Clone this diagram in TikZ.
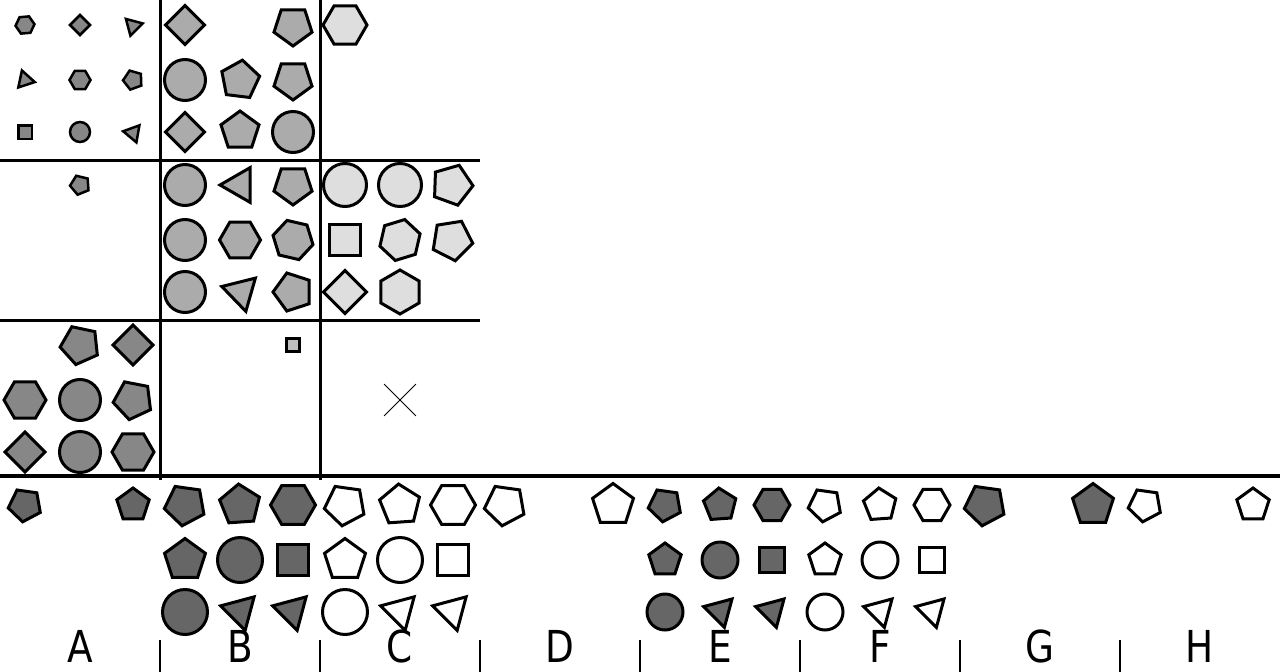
\documentclass[tikz,border=0pt]{standalone}
\usepackage{fontspec}
\newfontfamily\letrafont{DejaVu Sans}
\usetikzlibrary{shapes.geometric,shapes.misc}
\definecolor{grisA}{gray}{0.53}
\definecolor{grisB}{gray}{0.67}
\definecolor{grisC}{gray}{0.87}
\definecolor{grisD}{gray}{0.75}
\definecolor{oscuro}{gray}{0.4}
\begin{document}
\begin{tikzpicture}[x=1pt, y=-1pt,
  fig/.style={draw=black, line width=3pt, inner sep=0pt, outer sep=0pt},
  fina/.style={fig, line width=2.5pt},
  pol/.style={regular polygon, regular polygon sides=#1},
  circ/.style={circle},
  cuad/.style={rectangle},
  letra/.style={font=\letrafont\fontsize{44}{44}\selectfont, anchor=base, xscale=0.85}]
  \useasboundingbox (0,0) rectangle (1280,672);

  % Rejilla
  \draw[line width=3pt] (160,0) -- (160,480);
  \draw[line width=3pt] (320,0) -- (320,480);
  \draw[line width=3pt] (0,160) -- (480,160);
  \draw[line width=3pt] (0,320) -- (480,320);
  \draw[line width=4pt] (0,476) -- (1280,476);

  % Celda 1,1
  \node[fina, pol=6, minimum size=19, rotate=5, fill=grisA] (a11) at (25,25) {};
  \node[fina, pol=4, minimum size=20, rotate=45, fill=grisA] (a12) at (80,25) {};
  \node[fina, pol=3, minimum size=20, rotate=45, fill=grisA] (a13) at (133,26) {};
  \node[fina, pol=3, minimum size=20, rotate=18, fill=grisA] (a14) at (25,80) {};
  \node[fina, pol=6, minimum size=21, fill=grisA] (a15) at (80,80) {};
  \node[fina, pol=5, minimum size=20, rotate=20, fill=grisA] (a16) at (133,80) {};
  \node[fina, cuad, minimum size=13.5, fill=grisA] (a17) at (25,132) {};
  \node[fina, circ, minimum size=20, fill=grisA] (a18) at (80,132) {};
  \node[fina, pol=3, minimum size=20, rotate=80, fill=grisA] (a19) at (133,133) {};

  % Celda 1,2
  \node[fig, pol=4, minimum size=39, rotate=45, fill=grisB] (b11) at (185,25) {};
  \node[fig, pol=5, minimum size=40, rotate=36, fill=grisB] (b13) at (293,26) {};
  \node[fig, circ, minimum size=41, fill=grisB] (b14) at (185,80) {};
  \node[fig, pol=5, minimum size=40, rotate=-7, fill=grisB] (b15) at (240,80) {};
  \node[fig, pol=5, minimum size=40, rotate=36, fill=grisB] (b16) at (293,80) {};
  \node[fig, pol=4, minimum size=39, rotate=45, fill=grisB] (b17) at (185,132) {};
  \node[fig, pol=5, minimum size=40, fill=grisB] (b18) at (240,131) {};
  \node[fig, circ, minimum size=41, fill=grisB] (b19) at (293,132) {};

  % Celda 1,3
  \node[fig, pol=6, minimum size=44, fill=grisC] (c11) at (345,25) {};

  % Celda 2,1
  \node[fina, pol=5, minimum size=20, rotate=22, fill=grisA] (a22) at (80,185) {};

  % Celda 2,2
  \node[fig, circ, minimum size=41, fill=grisB] (b21) at (185,185) {};
  \node[fig, pol=3, minimum size=40, rotate=90, fill=grisB] (b22) at (240,185) {};
  \node[fig, pol=5, minimum size=40, rotate=36, fill=grisB] (b23) at (293,185) {};
  \node[fig, circ, minimum size=41, fill=grisB] (b24) at (185,240) {};
  \node[fig, pol=6, minimum size=41, fill=grisB] (b25) at (240,240) {};
  \node[fig, pol=6, minimum size=41, rotate=-13, fill=grisB] (b26) at (293,240) {};
  \node[fig, circ, minimum size=41, fill=grisB] (b27) at (185,292) {};
  \node[fig, pol=3, minimum size=40, rotate=74, fill=grisB] (b28) at (241,292) {};
  \node[fig, pol=5, minimum size=40, rotate=18, fill=grisB] (b29) at (293,292) {};

  % Celda 2,3
  \node[fig, circ, minimum size=43, fill=grisC] (c21) at (345,185) {};
  \node[fig, circ, minimum size=43, fill=grisC] (c22) at (400,185) {};
  \node[fig, pol=5, minimum size=42, rotate=-20, fill=grisC] (c23) at (452,185) {};
  \node[fig, cuad, minimum size=31, fill=grisC] (c24) at (345,240) {};
  \node[fig, pol=6, minimum size=42, rotate=17, fill=grisC] (c25) at (400,240) {};
  \node[fig, pol=5, minimum size=42, rotate=-27, fill=grisC] (c26) at (452,240) {};
  \node[fig, pol=4, minimum size=43, rotate=45, fill=grisC] (c27) at (345,292) {};
  \node[fig, pol=6, minimum size=44, rotate=30, fill=grisC] (c28) at (400,292) {};

  % Celda 3,1
  \node[fig, pol=5, minimum size=40, rotate=24, fill=grisA] (a32) at (80,345) {};
  \node[fig, pol=4, minimum size=40, rotate=45, fill=grisA] (a33) at (133,345) {};
  \node[fig, pol=6, minimum size=42, fill=grisA] (a34) at (25,400) {};
  \node[fig, circ, minimum size=41, fill=grisA] (a35) at (80,400) {};
  \node[fig, pol=5, minimum size=40, rotate=25, fill=grisA] (a36) at (133,400) {};
  \node[fig, pol=4, minimum size=40, rotate=45, fill=grisA] (a37) at (25,452) {};
  \node[fig, circ, minimum size=41, fill=grisA] (a38) at (80,452) {};
  \node[fig, pol=6, minimum size=42, fill=grisA] (a39) at (133,452) {};

  % Celda 3,2 y hueco
  \node[fig, cuad, minimum size=12.5, fill=grisD] (b33) at (293,345) {};
  \node[cross out, draw=black, line width=0.8pt, minimum size=31] (falta) at (400,400) {};

  % Opcion A
  \node[fig, pol=5, minimum size=34, rotate=28, fill=oscuro] (opA1) at (25,505) {};
  \node[fig, pol=5, minimum size=34, fill=oscuro] (opA2) at (133,505) {};

  % Opcion B
  \node[fig, pol=5, minimum size=42, rotate=28, fill=oscuro] (opB1) at (185,505) {};
  \node[fig, pol=5, minimum size=42, rotate=4, fill=oscuro] (opB2) at (240,505) {};
  \node[fig, pol=6, minimum size=45, fill=oscuro] (opB3) at (293,505) {};
  \node[fig, pol=5, minimum size=43, fill=oscuro] (opB4) at (185,560) {};
  \node[fig, circ, minimum size=45, fill=oscuro] (opB5) at (240,560) {};
  \node[fig, cuad, minimum size=31, fill=oscuro] (opB6) at (293,560) {};
  \node[fig, circ, minimum size=45, fill=oscuro] (opB7) at (185,612) {};
  \node[fig, pol=3, minimum size=40, rotate=75, fill=oscuro] (opB8) at (240,611) {};
  \node[fig, pol=3, minimum size=40, rotate=75, fill=oscuro] (opB9) at (292,611) {};

  % Opcion C
  \node[fig, pol=5, minimum size=42, rotate=28, fill=white] (opC1) at (345,505) {};
  \node[fig, pol=5, minimum size=42, rotate=4, fill=white] (opC2) at (400,505) {};
  \node[fig, pol=6, minimum size=45, fill=white] (opC3) at (453,505) {};
  \node[fig, pol=5, minimum size=42, rotate=28, fill=white] (opC4) at (505,505) {};
  \node[fig, pol=5, minimum size=43, fill=white] (opC5) at (345,560) {};
  \node[fig, circ, minimum size=45, fill=white] (opC6) at (400,560) {};
  \node[fig, cuad, minimum size=31, fill=white] (opC7) at (453,560) {};
  \node[fig, circ, minimum size=45, fill=white] (opC8) at (345,612) {};
  \node[fig, pol=3, minimum size=40, rotate=75, fill=white] (opC9) at (400,611) {};
  \node[fig, pol=3, minimum size=40, rotate=75, fill=white] (opC10) at (452,611) {};

  % Opcion D
  \node[fig, pol=5, minimum size=43, fill=white] (opD1) at (613,505) {};

  % Opcion E
  \node[fig, pol=5, minimum size=34, rotate=28, fill=oscuro] (opE1) at (665,505) {};
  \node[fig, pol=5, minimum size=34, rotate=4, fill=oscuro] (opE2) at (720,505) {};
  \node[fig, pol=6, minimum size=36, fill=oscuro] (opE3) at (772,505) {};
  \node[fig, pol=5, minimum size=34, fill=oscuro] (opE4) at (665,560) {};
  \node[fig, circ, minimum size=36, fill=oscuro] (opE5) at (720,560) {};
  \node[fig, cuad, minimum size=25, fill=oscuro] (opE6) at (772,560) {};
  \node[fig, circ, minimum size=36, fill=oscuro] (opE7) at (665,612) {};
  \node[fig, pol=3, minimum size=34, rotate=75, fill=oscuro] (opE8) at (720,611) {};
  \node[fig, pol=3, minimum size=34, rotate=75, fill=oscuro] (opE9) at (772,611) {};

  % Opcion F
  \node[fig, pol=5, minimum size=34, rotate=28, fill=white] (opF1) at (825,505) {};
  \node[fig, pol=5, minimum size=34, rotate=4, fill=white] (opF2) at (880,505) {};
  \node[fig, pol=6, minimum size=36, fill=white] (opF3) at (932,505) {};
  \node[fig, pol=5, minimum size=34, fill=white] (opF4) at (825,560) {};
  \node[fig, circ, minimum size=36, fill=white] (opF5) at (880,560) {};
  \node[fig, cuad, minimum size=25, fill=white] (opF6) at (932,560) {};
  \node[fig, circ, minimum size=36, fill=white] (opF7) at (825,612) {};
  \node[fig, pol=3, minimum size=34, rotate=75, fill=white] (opF8) at (880,611) {};
  \node[fig, pol=3, minimum size=34, rotate=75, fill=white] (opF9) at (932,611) {};

  % Opcion G
  \node[fig, pol=5, minimum size=42, rotate=28, fill=oscuro] (opG1) at (985,505) {};
  \node[fig, pol=5, minimum size=43, fill=oscuro] (opG2) at (1093,505) {};
  \node[fig, pol=5, minimum size=34, rotate=28, fill=white] (opG3) at (1145,505) {};

  % Opcion H
  \node[fig, pol=5, minimum size=34, fill=white] (opH1) at (1253,505) {};

  % Etiquetas
  \foreach \i in {1,...,7}
    \draw[line width=2pt] (160*\i,640) -- (160*\i,672);
  \foreach \l [count=\i from 0] in {A,B,C,D,E,F,G,H}
    \node[letra] (et\l) at (80+160*\i,662) {\l};
\end{tikzpicture}
\end{document}
